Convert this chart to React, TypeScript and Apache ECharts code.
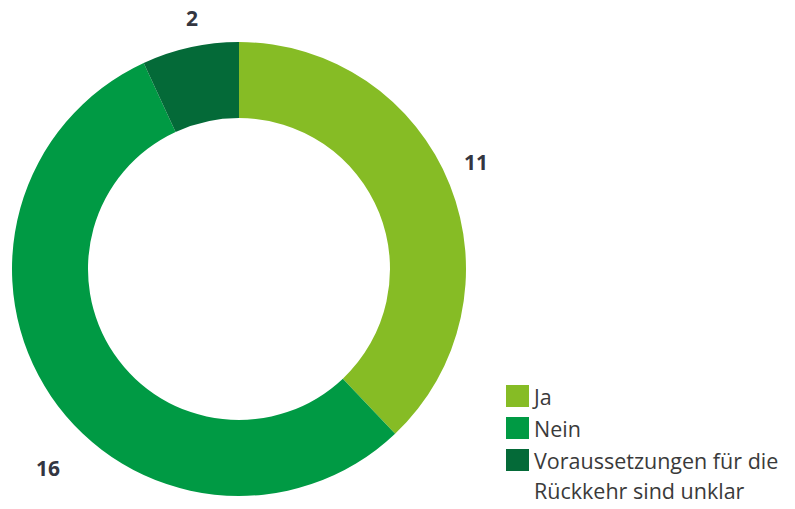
import React, { useEffect, useRef } from "react";
import * as echarts from "echarts";

const categories = ["Ja", "Nein", "Voraussetzungen für die\nRückkehr sind unklar"];
const values = [11, 16, 2];
const colors = ["#86BC25", "#009A44", "#046A38"];

// label offsets from pie centre (styling only)
const labelOffsets: [number, number][] = [
  [237, -107],
  [-191, 199],
  [-47, -251],
];

export default function App() {
  const ref = useRef<HTMLDivElement>(null);
  useEffect(() => {
    if (!ref.current) return;
    const chart = echarts.init(ref.current, undefined, { renderer: "svg" });
    const cx = 239;
    const cy = 269;
    const legendBase = {
      orient: "vertical",
      left: 506,
      width: 300,
      height: 300,
      padding: 0,
      itemWidth: 23,
      itemHeight: 22,
      itemGap: 10,
      icon: "rect",
      selectedMode: false,
      textStyle: {
        fontFamily: "Open Sans",
        fontSize: 21.5,
        color: "#3a3a3a",
        lineHeight: 22,
      },
    };
    chart.setOption({
      animation: false,
      color: colors,
      legend: [
        { ...legendBase, top: 385, data: categories.slice(0, 2) },
        {
          ...legendBase,
          top: 415,
          textStyle: { ...legendBase.textStyle, lineHeight: 30 },
          formatter: (name: string) => "\n" + name,
          data: categories.slice(2),
        },
      ],
      series: [
        {
          type: "pie",
          center: [cx, cy],
          radius: [151, 227],
          startAngle: 90,
          clockwise: true,
          avoidLabelOverlap: false,
          labelLine: { show: false },
          label: {
            show: true,
            position: "outside",
            formatter: "{c}",
            fontFamily: "Open Sans",
            fontWeight: "bold",
            fontSize: 21,
            color: "#333641",
          },
          labelLayout: (params: any) => {
            const o = labelOffsets[params.dataIndex];
            return {
              x: cx + o[0],
              y: cy + o[1],
              align: "center",
              verticalAlign: "middle",
            };
          },
          emphasis: { disabled: true },
          data: categories.map((name, i) => ({ name, value: values[i] })),
        },
      ],
    });
    return () => chart.dispose();
  }, []);
  return (
    <div
      ref={ref}
      style={{ position: "absolute", left: 0, top: 0, width: 795, height: 509 }}
    />
  );
}
